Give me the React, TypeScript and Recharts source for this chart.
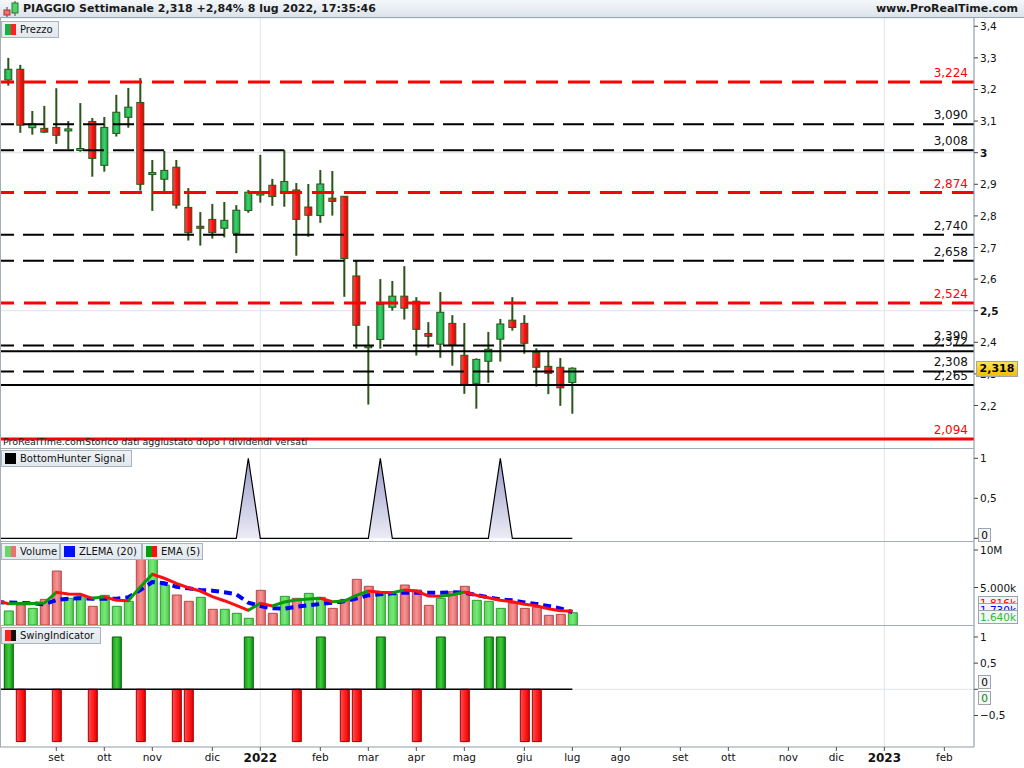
import React from 'react';
import {
  ComposedChart, Bar, Line, Area, XAxis, YAxis, ReferenceLine, Cell, CartesianGrid
} from 'recharts';

const FONT = '"DejaVu Sans", Verdana, sans-serif';
const GRID = '#dfe4ea';
const AXIS = '#8f9ba6';
const WICK = '#2b5418';

// settimane: 1 = 2 ago 2021 ... 48 = 4 lug 2022
const OPEN = [3.230, 3.264, 3.079, 3.077, 3.080, 3.070, 3.004, 3.099, 2.960, 3.061, 3.112, 3.159, 2.930, 2.916, 2.954, 2.827,
  2.764, 2.789, 2.761, 2.745, 2.817, 2.866, 2.897, 2.875, 2.882, 2.828, 2.801, 2.856, 2.862, 2.610, 2.380, 2.409,
  2.511, 2.546, 2.530, 2.428, 2.394, 2.460, 2.359, 2.270, 2.340, 2.410, 2.470, 2.460, 2.368, 2.324, 2.321, 2.273];
const HIGH = [3.300, 3.278, 3.132, 3.148, 3.204, 3.100, 3.157, 3.110, 3.113, 3.183, 3.205, 3.236, 2.977, 3.006, 2.977, 2.888,
  2.812, 2.838, 2.844, 2.834, 2.882, 2.993, 2.917, 3.009, 2.904, 2.901, 2.945, 2.942, 2.862, 2.660, 2.452, 2.600,
  2.594, 2.641, 2.543, 2.464, 2.559, 2.486, 2.461, 2.349, 2.433, 2.474, 2.543, 2.486, 2.381, 2.370, 2.350, 2.321];
const LOW = [3.212, 3.063, 3.057, 3.063, 3.028, 3.011, 3.003, 2.924, 2.940, 3.051, 3.079, 2.880, 2.816, 2.878, 2.823, 2.722,
  2.706, 2.728, 2.732, 2.682, 2.810, 2.842, 2.832, 2.829, 2.674, 2.734, 2.778, 2.801, 2.544, 2.380, 2.203, 2.380,
  2.500, 2.472, 2.358, 2.383, 2.351, 2.326, 2.237, 2.190, 2.272, 2.339, 2.437, 2.364, 2.260, 2.236, 2.199, 2.174];
const CLOSE = [3.264, 3.087, 3.091, 3.065, 3.055, 3.072, 3.010, 2.982, 3.080, 3.128, 3.144, 2.900, 2.934, 2.944, 2.834, 2.747,
  2.758, 2.747, 2.786, 2.818, 2.875, 2.874, 2.861, 2.909, 2.789, 2.802, 2.901, 2.846, 2.665, 2.454, 2.386, 2.520,
  2.546, 2.508, 2.441, 2.419, 2.495, 2.391, 2.267, 2.346, 2.378, 2.458, 2.447, 2.397, 2.321, 2.302, 2.256, 2.318];

// volumi in milioni, 1 = barra verde
const VOLUME = [1.87, 2.67, 2.22, 3.42, 7.2, 3.56, 3.87, 2.49, 3.96, 2.49, 3.16, 9.3, 10.2, 5.33, 4.0, 3.16,
  3.69, 2.09, 2.09, 1.56, 0.89, 4.62, 1.56, 3.82, 3.56, 4.22, 3.69, 2.22, 3.42, 6.09, 5.16, 4.13,
  4.13, 5.33, 4.67, 2.62, 3.56, 4.44, 5.16, 3.29, 3.16, 2.22, 2.89, 2.22, 2.36, 1.29, 1.42, 1.64];
const VOL_UP = [1, 0, 1, 0, 0, 1, 1, 0, 1, 1, 1, 0, 1, 1, 0, 0, 1, 0, 1, 1, 1, 0, 0, 1, 0, 1, 1, 0, 0, 0, 0, 1,
  1, 0, 0, 0, 1, 0, 0, 1, 1, 1, 0, 0, 0, 0, 0, 1];
// medie, il primo valore e' la settimana prima (fuori bordo)
const EMA5 = [3.25, 2.85, 2.86, 2.87, 2.93, 4.36, 4.13, 4.10, 3.56, 3.77, 3.29, 3.24, 5.07, 6.76, 6.23, 5.56, 4.97,
  4.53, 3.77, 3.24, 2.63, 1.96, 2.89, 2.53, 3.07, 3.33, 3.47, 3.56, 3.11, 3.20, 3.96, 4.53, 4.36,
  4.31, 4.67, 4.53, 3.87, 3.85, 4.04, 4.40, 3.96, 3.64, 3.29, 3.11, 2.76, 2.57, 2.17, 1.91, 1.82];
const ZLEMA20 = [3.05, 3.0, 2.95, 2.9, 2.76, 3.33, 3.5, 3.56, 3.5, 3.5, 3.5, 3.69, 4.67, 5.73, 5.56, 5.11, 4.89,
  4.67, 4.58, 4.36, 4.09, 2.97, 2.53, 2.22, 2.18, 2.44, 2.62, 2.8, 2.97, 3.16, 3.51, 3.96, 4.09,
  4.22, 4.31, 4.31, 4.31, 4.31, 4.36, 4.31, 4.0, 3.69, 3.42, 3.29, 3.02, 2.8, 2.53, 2.22, 1.73];
const BOTTOM_HUNTER = [0, 0, 0, 0, 0, 0, 0, 0, 0, 0, 0, 0, 0, 0, 0, 0, 0, 0, 0, 0, 0, 1, 0, 0, 0, 0, 0, 0, 0, 0, 0, 0,
  1, 0, 0, 0, 0, 0, 0, 0, 0, 0, 1, 0, 0, 0, 0, 0, 0];
const SWING = [1, -1, 0, 0, -1, 0, 0, -1, 0, 1, 0, -1, 0, 0, -1, -1, 0, 0, 0, 0, 1, 0, 0, 0, -1, 0, 1, 0, -1, -1, 0, 1,
  0, 0, -1, 0, 1, 0, -1, 0, 1, 1, 0, -1, -1, 0, 0, 0];

const LEVEL_VALUES = [3.224, 3.090, 3.008, 2.874, 2.740, 2.658, 2.524, 2.390, 2.372, 2.308, 2.265, 2.094];
const LEVEL_KINDS = ['redDash', 'dash', 'dash', 'redDash', 'dash', 'dash', 'redDash', 'dash', 'solid', 'dash', 'solid', 'redSolid'];

const PRICE_TICKS = [2.2, 2.3, 2.4, 2.5, 2.6, 2.7, 2.8, 2.9, 3.0, 3.1, 3.2, 3.3, 3.4];
const PRICE_GRID = [2.5, 3.0];
const MONTH_TICKS = [5, 9, 13, 18, 22, 27, 31, 35, 39, 44, 48, 52, 57, 61, 66, 70, 74, 79];
const MONTH_LABELS = ['set', 'ott', 'nov', 'dic', '2022', 'feb', 'mar', 'apr', 'mag', 'giu', 'lug', 'ago',
  'set', 'ott', 'nov', 'dic', '2023', 'feb'];
const YEAR_TICKS = [22, 74];

const X_DOMAIN = [0.308, 81.47];

const candleRows = OPEN.map((o, k) => ({
  i: k + 1, o, h: HIGH[k], l: LOW[k], c: CLOSE[k], range: [LOW[k], HIGH[k]]
}));
// riga 0 = settimana prima del bordo sinistro, solo per le linee
const indRows = EMA5.map((e, k) => ({
  i: k,
  ema: e,
  zl: ZLEMA20[k],
  bh: BOTTOM_HUNTER[k],
  zero: 0,
  v: k > 0 ? VOLUME[k - 1] : null,
  up: k > 0 ? VOL_UP[k - 1] : 0,
  s: k > 0 && SWING[k - 1] !== 0 ? SWING[k - 1] : null
}));

const comma = (v: number, d: number) => v.toFixed(d).replace('.', ',');

function fmtAxis(v: number) {
  const r = Math.round(v * 10) / 10;
  return Number.isInteger(r) ? String(r) : comma(r, 1).replace('-', '\u2212');
}

function AxisTick(props: any) {
  const { x, y, payload, boldSet, fmt } = props;
  const v = Math.round(payload.value * 10) / 10;
  const label = fmt ? fmt(v) : fmtAxis(v);
  return (
    <text x={x} y={y} dy={4} fontSize={10.5} fontFamily={FONT} fill="#111"
      fontWeight={boldSet && boldSet.includes(v) ? 'bold' : 'normal'}>{label}</text>
  );
}

function MonthTick(props: any) {
  const { x, y, payload } = props;
  const idx = MONTH_TICKS.indexOf(payload.value);
  const label = MONTH_LABELS[idx] ?? '';
  const year = /^\d+$/.test(label);
  return (
    <text x={x} y={y} dy={year ? 9 : 8} textAnchor="middle" fontFamily={FONT}
      fontSize={year ? 12 : 10.5} fontWeight={year ? 'bold' : 'normal'} fill="#111">{label}</text>
  );
}

function Candle(props: any) {
  const { x, y, width, height, payload } = props;
  if (!payload || height == null) return null;
  const top0 = Math.min(y, y + height);
  const hgt = Math.abs(height);
  const { o, h, l, c } = payload;
  const k = h > l ? hgt / (h - l) : 0;
  const py = (v: number) => top0 + (h - v) * k;
  const cx = x + width / 2;
  const up = c >= o;
  const bt = py(Math.max(o, c));
  const bb = py(Math.min(o, c));
  const bh = Math.max(bb - bt, 2);
  return (
    <g>
      <line x1={cx} x2={cx} y1={top0} y2={top0 + hgt} stroke={WICK} strokeWidth={2} />
      <rect x={cx - 3.5} y={bt - (bh > bb - bt ? 1 : 0)} width={7} height={bh}
        fill={up ? 'url(#cUp)' : 'url(#cDn)'} stroke={WICK} strokeWidth={1} />
    </g>
  );
}

function levelStyle(kind: string) {
  if (kind === 'redDash') return { stroke: '#ff0000', width: 3, dash: '22 10', color: '#ff0000' };
  if (kind === 'redSolid') return { stroke: '#ff0000', width: 3, dash: undefined, color: '#ff0000' };
  if (kind === 'solid') return { stroke: '#000000', width: 2, dash: undefined, color: '#111' };
  return { stroke: '#000000', width: 2, dash: '21 9', color: '#111' };
}

const levelLabel = (value: number, color: string) => (p: any) => {
  const vb = p.viewBox;
  return (
    <text x={vb.x + vb.width - 6} y={vb.y - 5} textAnchor="end" fontSize={12}
      fontFamily={FONT} fill={color}>{comma(value, 3)}</text>
  );
};

const emaStops = EMA5.slice(1).map((e, k) => ({
  color: e > EMA5[k] ? '#0a9a0a' : '#ff1010',
  a: k / (EMA5.length - 1),
  b: (k + 1) / (EMA5.length - 1)
}));

const M0 = { top: 0, right: 0, bottom: 0, left: 0 };

// asse x nascosto + asse per le griglie degli anni (sotto le serie)
function hiddenAxes() {
  return [
    <XAxis key="x" type="number" dataKey="i" domain={X_DOMAIN} allowDataOverflow hide ticks={MONTH_TICKS} />,
    <XAxis key="xy" xAxisId="yr" type="number" dataKey="i" domain={X_DOMAIN} allowDataOverflow hide
      ticks={YEAR_TICKS} interval={0} />,
    <CartesianGrid key="g" xAxisId="yr" horizontal={false} stroke={GRID} />
  ];
}

function Tag({ left, top, width, icon, text }: any) {
  return (
    <div style={{
      position: 'absolute', left, top, width, height: 17, boxSizing: 'border-box',
      border: '1px solid #a9b4be', background: 'linear-gradient(#eef2f5,#e1e8ee)',
      display: 'flex', alignItems: 'center', gap: 4, paddingLeft: 3,
      fontFamily: FONT, fontSize: 10, color: '#111', whiteSpace: 'nowrap'
    }}>
      <span style={{ display: 'flex', width: 11, height: 11 }}>
        {icon.map((c: string, j: number) => <span key={j} style={{ flex: 1, background: c }} />)}
      </span>
      {text}
    </div>
  );
}

function ValueBox({ left, top, width, height, text, color, bg, bold }: any) {
  const h = height ?? 14;
  return (
    <div style={{
      position: 'absolute', left, top, width, height: h, boxSizing: 'border-box',
      border: '1px solid #9aa5b0', background: bg ?? '#f2f4f6', color,
      fontFamily: FONT, fontSize: bold ? 11 : 10.5, fontWeight: bold ? 'bold' : 'normal',
      lineHeight: (h - 2) + 'px', textAlign: 'center'
    }}>{text}</div>
  );
}

export default function App() {
  return (
    <div style={{ position: 'absolute', left: 0, top: 0, width: 1024, height: 768, background: '#fff', overflow: 'hidden' }}>
      {/* testata */}
      <div style={{
        position: 'absolute', left: 0, top: 0, width: 1024, height: 18, boxSizing: 'border-box',
        background: 'linear-gradient(#f5f8fa,#dbe3ea)', borderBottom: '1px solid #9aa6b1',
        fontFamily: FONT, fontWeight: 'bold', fontSize: 11, color: '#1a1a1a'
      }}>
        <svg width={18} height={18} style={{ position: 'absolute', left: 2, top: 0 }}>
          <line x1={5} x2={5} y1={7} y2={17} stroke="#444" />
          <rect x={2} y={10} width={6} height={5} fill="#f07070" stroke="#a33" />
          <line x1={13} x2={13} y1={1} y2={16} stroke="#444" />
          <rect x={10} y={3} width={6} height={10} fill="#4fd36f" stroke="#2a7a2a" />
        </svg>
        <span style={{ position: 'absolute', left: 23, top: 2 }}>PIAGGIO Settimanale 2,318 +2,84% 8 lug 2022, 17:35:46</span>
        <span style={{ position: 'absolute', right: 6, top: 2 }}>www.ProRealTime.com</span>
      </div>

      {/* prezzo */}
      <div style={{ position: 'absolute', left: 0, top: 18 }}>
        <ComposedChart width={1024} height={431} data={candleRows} margin={M0}>
          <defs>
            <linearGradient id="cUp" x1="0" y1="0" x2="1" y2="0">
              <stop offset="0" stopColor="#1ea848" />
              <stop offset="0.5" stopColor="#35d46c" />
              <stop offset="1" stopColor="#1aa044" />
            </linearGradient>
            <linearGradient id="cDn" x1="0" y1="0" x2="1" y2="0">
              <stop offset="0" stopColor="#ff5252" />
              <stop offset="0.5" stopColor="#ff1414" />
              <stop offset="1" stopColor="#e60000" />
            </linearGradient>
          </defs>
          {hiddenAxes()}
          <YAxis orientation="right" width={50} domain={[2.0624, 3.4262]} allowDataOverflow
            ticks={PRICE_TICKS} interval={0} tickSize={4} tickLine={{ stroke: '#444' }}
            axisLine={{ stroke: AXIS }} tick={(p: any) => <AxisTick {...p} boldSet={[3, 2.5]} />} />
          <YAxis yAxisId="grid" hide domain={[2.0624, 3.4262]} allowDataOverflow ticks={PRICE_GRID} interval={0} />
          <CartesianGrid yAxisId="grid" vertical={false} stroke={GRID} />
          <Bar dataKey="range" barSize={8} isAnimationActive={false}
            shape={(p: any) => <Candle {...p} />} />
          {LEVEL_VALUES.map((v, k) => {
            const st = levelStyle(LEVEL_KINDS[k]);
            return (
              <ReferenceLine key={'l' + k} y={v} stroke={st.stroke} strokeWidth={st.width}
                strokeDasharray={st.dash} label={levelLabel(v, st.color)} />
            );
          })}
        </ComposedChart>
      </div>

      {/* BottomHunter */}
      <div style={{ position: 'absolute', left: 0, top: 449 }}>
        <ComposedChart width={1024} height={93} data={indRows} margin={M0}>
          <defs>
            <linearGradient id="bhFill" x1="0" y1="0" x2="0" y2="1">
              <stop offset="0" stopColor="#9c9cc9" />
              <stop offset="1" stopColor="#ececf6" />
            </linearGradient>
          </defs>
          {hiddenAxes()}
          <YAxis orientation="right" width={50} domain={[-0.046, 1.116]} allowDataOverflow
            ticks={[0, 0.5, 1]} interval={0} tickSize={4} tickLine={{ stroke: '#444' }}
            axisLine={{ stroke: AXIS }}
            tick={(p: any) => <AxisTick {...p} fmt={(v: number) => (v === 0 ? '' : fmtAxis(v))} />} />
          <Area type="linear" dataKey="bh" baseValue={0} stroke="#000" strokeWidth={1.2}
            fill="url(#bhFill)" fillOpacity={1} dot={false} activeDot={false} isAnimationActive={false} />
        </ComposedChart>
      </div>

      {/* volume */}
      <div style={{ position: 'absolute', left: 0, top: 542 }}>
        <ComposedChart width={1024} height={84} data={indRows} margin={M0}>
          <defs>
            <linearGradient id="vUp" x1="0" y1="0" x2="1" y2="0">
              <stop offset="0" stopColor="#55d655" />
              <stop offset="0.5" stopColor="#7ae87a" />
              <stop offset="1" stopColor="#48c848" />
            </linearGradient>
            <linearGradient id="vDn" x1="0" y1="0" x2="1" y2="0">
              <stop offset="0" stopColor="#e76b6b" />
              <stop offset="0.5" stopColor="#f59595" />
              <stop offset="1" stopColor="#e06464" />
            </linearGradient>
            <linearGradient id="emaCol" x1="0" y1="0" x2="1" y2="0">
              {emaStops.flatMap((s, k) => [
                <stop key={'a' + k} offset={s.a} stopColor={s.color} />,
                <stop key={'b' + k} offset={s.b} stopColor={s.color} />
              ])}
            </linearGradient>
          </defs>
          {hiddenAxes()}
          <YAxis orientation="right" width={50} domain={[-0.133, 11.067]} allowDataOverflow
            ticks={[5, 10]} interval={0} tickSize={4} tickLine={{ stroke: '#444' }}
            axisLine={{ stroke: AXIS }}
            tick={(p: any) => <AxisTick {...p} fmt={(v: number) => (v === 10 ? '10M' : '5.000k')} />} />
          <Bar dataKey="v" barSize={9} isAnimationActive={false}>
            {indRows.map(r => (
              <Cell key={r.i} fill={r.up ? 'url(#vUp)' : 'url(#vDn)'} stroke={r.up ? '#2e9a2e' : '#b24a4a'} strokeWidth={1} />
            ))}
          </Bar>
          <Line type="linear" dataKey="zl" stroke="#0000ff" strokeWidth={4} strokeDasharray="8 5"
            dot={false} activeDot={false} isAnimationActive={false} />
          <Line type="linear" dataKey="ema" stroke="url(#emaCol)" strokeWidth={3}
            dot={false} activeDot={false} isAnimationActive={false} />
        </ComposedChart>
      </div>

      {/* SwingIndicator */}
      <div style={{ position: 'absolute', left: 0, top: 626 }}>
        <ComposedChart width={1024} height={142} data={indRows} margin={M0}>
          <defs>
            <linearGradient id="sUp" x1="0" y1="0" x2="1" y2="0">
              <stop offset="0" stopColor="#1c9c1c" />
              <stop offset="0.5" stopColor="#3bcf3b" />
              <stop offset="1" stopColor="#158a15" />
            </linearGradient>
            <linearGradient id="sDn" x1="0" y1="0" x2="1" y2="0">
              <stop offset="0" stopColor="#ff5050" />
              <stop offset="0.5" stopColor="#ff2020" />
              <stop offset="1" stopColor="#e00000" />
            </linearGradient>
          </defs>
          <XAxis type="number" dataKey="i" domain={X_DOMAIN} allowDataOverflow ticks={MONTH_TICKS}
            interval={0} height={21} tickSize={4} tickLine={{ stroke: '#555' }}
            axisLine={{ stroke: AXIS }} tick={(p: any) => <MonthTick {...p} />} />
          <XAxis xAxisId="yr" type="number" dataKey="i" domain={X_DOMAIN} allowDataOverflow hide
            ticks={YEAR_TICKS} interval={0} />
          <CartesianGrid xAxisId="yr" horizontal={false} stroke={GRID} />
          <YAxis orientation="right" width={50} domain={[-1.103, 1.21]} allowDataOverflow
            ticks={[-0.5, 0, 0.5, 1]} interval={0} tickSize={4} tickLine={{ stroke: '#444' }}
            axisLine={{ stroke: AXIS }}
            tick={(p: any) => <AxisTick {...p} fmt={(v: number) => (v === 0 ? '' : fmtAxis(v))} />} />
          <ReferenceLine y={0} stroke={GRID} />
          <Bar dataKey="s" barSize={9} isAnimationActive={false}>
            {indRows.map(r => (
              <Cell key={r.i} fill={(r.s ?? 0) > 0 ? 'url(#sUp)' : 'url(#sDn)'}
                stroke={(r.s ?? 0) > 0 ? '#0b5e0b' : '#a00000'} strokeWidth={1} />
            ))}
          </Bar>
          <Line type="linear" dataKey="zero" stroke="#000" strokeWidth={1.5}
            dot={false} activeDot={false} isAnimationActive={false} />
        </ComposedChart>
      </div>

      {/* separatori e bordi */}
      {[449, 542, 626].map(t => (
        <div key={t} style={{ position: 'absolute', left: 0, top: t - 1, width: 974, height: 1, background: '#a3adb7' }} />
      ))}
      <div style={{ position: 'absolute', left: 0, top: 18, width: 1, height: 729, background: '#a3adb7' }} />

      <div style={{
        position: 'absolute', left: 3, top: 436, fontFamily: FONT, fontSize: 9.5, color: '#222', whiteSpace: 'nowrap'
      }}>ProRealTime.comStorico dati aggiustato dopo i dividendi versati</div>

      <Tag left={1} top={21} width={58} icon={['#22aa44', '#ff2222']} text="Prezzo" />
      <Tag left={1} top={450} width={131} icon={['#000', '#000']} text="BottomHunter Signal" />
      <Tag left={1} top={543} width={59} icon={['#66d866', '#ef7070']} text="Volume" />
      <Tag left={60} top={543} width={82} icon={['#0010ff', '#0010ff']} text="ZLEMA (20)" />
      <Tag left={142} top={543} width={61} icon={['#0a9a0a', '#ff1010']} text="EMA (5)" />
      <Tag left={1} top={627} width={100} icon={['#ff2020', '#111']} text="SwingIndicator" />

      <ValueBox left={976} top={361} width={42} height={16} text="2,318" color="#000"
        bg="linear-gradient(#ffe25a,#f2bd00)" bold />
      <ValueBox left={978} top={528} width={13} text="0" color="#000" />
      <ValueBox left={978} top={596} width={40} text="1.816k" color="#ff0000" />
      <ValueBox left={978} top={603} width={40} text="1.730k" color="#0000ff" />
      <ValueBox left={978} top={610} width={40} text="1.640k" color="#33bb33" />
      <ValueBox left={978} top={675} width={13} text="0" color="#000" />
      <ValueBox left={978} top={691} width={13} text="0" color="#0a8a0a" />
    </div>
  );
}
